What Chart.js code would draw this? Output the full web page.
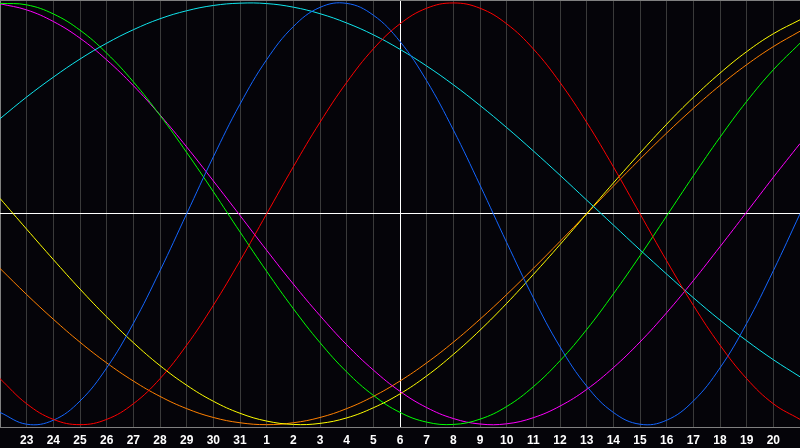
<!DOCTYPE html>
<html>
<head>
<meta charset="utf-8">
<script src="https://cdn.jsdelivr.net/npm/chart.js@4"></script>
<style>
    html, body { margin: 0; padding: 0; background: #050409; }
    canvas { display: block; }
</style>
</head>
<body>
<canvas id="bioChart" width="800" height="448"></canvas>
<script>
// --- Chart data (one value per day) ---

const days = [22, 23, 24, 25, 26, 27, 28, 29, 30, 31, 1, 2, 3, 4, 5, 6, 7, 8, 9, 10,
    11, 12, 13, 14, 15, 16, 17, 18, 19, 20, 21];

const physical = [-0.942, -0.998, -0.979, -0.888, -0.731, -0.520, -0.270, 0, 0.270, 0.520,
    0.731, 0.888, 0.979, 0.998, 0.942, 0.817, 0.631, 0.398, 0.136, -0.136,
    -0.398, -0.631, -0.817, -0.942, -0.998, -0.979, -0.888, -0.731, -0.520, -0.270, 0];

const emotional = [-0.782, -0.901, -0.975, -1, -0.975, -0.901, -0.782, -0.623, -0.434, -0.223,
    0, 0.223, 0.434, 0.623, 0.782, 0.901, 0.975, 1, 0.975, 0.901,
    0.782, 0.623, 0.434, 0.223, 0, -0.223, -0.434, -0.623, -0.782, -0.901, -0.975];

const intellectual = [0.998, 0.991, 0.948, 0.871, 0.762, 0.626, 0.467, 0.291, 0.105, -0.086,
    -0.273, -0.450, -0.611, -0.750, -0.861, -0.942, -0.988, -0.999, -0.974, -0.914,
    -0.820, -0.697, -0.549, -0.380, -0.199, -0.010, 0.180, 0.363, 0.533, 0.683, 0.809];

const intuitive = [0.996, 0.967, 0.912, 0.833, 0.730, 0.608, 0.469, 0.317, 0.156, -0.008,
    -0.173, -0.333, -0.483, -0.621, -0.741, -0.842, -0.919, -0.971, -0.997, -0.996,
    -0.967, -0.912, -0.833, -0.730, -0.608, -0.469, -0.317, -0.156, 0.008, 0.173, 0.333];

const aesthetic = [0.073, -0.073, -0.217, -0.357, -0.489, -0.611, -0.720, -0.813, -0.889, -0.946,
    -0.983, -0.999, -0.994, -0.968, -0.920, -0.854, -0.769, -0.667, -0.552, -0.425,
    -0.288, -0.146, 0, 0.146, 0.288, 0.425, 0.552, 0.667, 0.769, 0.854, 0.920];

const awareness = [-0.259, -0.383, -0.500, -0.609, -0.707, -0.793, -0.866, -0.924, -0.966, -0.991,
    -1, -0.991, -0.966, -0.924, -0.866, -0.793, -0.707, -0.609, -0.500, -0.383,
    -0.259, -0.131, 0, 0.131, 0.259, 0.383, 0.500, 0.609, 0.707, 0.793, 0.866];

const spiritual = [0.451, 0.554, 0.648, 0.734, 0.809, 0.873, 0.925, 0.963, 0.988, 0.999,
    0.997, 0.980, 0.949, 0.905, 0.849, 0.780, 0.701, 0.612, 0.514, 0.409,
    0.298, 0.183, 0.065, -0.053, -0.171, -0.286, -0.398, -0.504, -0.602, -0.692, -0.773];

const Y_LIMIT = 1.014;
const TODAY_INDEX = 15;

// --- Chart setup ---

function makeLine(data, color) {
    return {
        data: data,
        borderColor: color,
        borderWidth: 1,
        pointRadius: 0,
        pointHoverRadius: 0,
        tension: 0.4,
        fill: false
    };
}

const ctx = document.getElementById("bioChart").getContext("2d");

new Chart(ctx, {
    type: "line",
    data: {
        labels: days.map(String),
        datasets: [
            makeLine(emotional, "#ff0000"),
            makeLine(physical, "#1466ff"),
            makeLine(spiritual, "#10e6ee"),
            makeLine(intellectual, "#00ff00"),
            makeLine(intuitive, "#ff00ff"),
            makeLine(aesthetic, "#ffff00"),
            makeLine(awareness, "#ff8000")
        ]
    },
    options: {
        responsive: false,
        devicePixelRatio: 1,
        animation: false,
        layout: { padding: 0, autoPadding: false },
        plugins: {
            legend: { display: false },
            tooltip: { enabled: false }
        },
        scales: {
            x: {
                offset: false,
                border: { display: true, color: "#808080", width: 1 },
                grid: {
                    drawTicks: true,
                    tickLength: 6,
                    tickColor: "transparent",
                    lineWidth: 1,
                    color: (c) => {
                        if (c.index === TODAY_INDEX) return "#ffffff";
                        if (c.index === 0) return "#808080";
                        return "#3a3a3a";
                    }
                },
                ticks: {
                    autoSkip: false,
                    maxRotation: 0,
                    padding: 0,
                    color: "#ffffff",
                    font: { family: "'Liberation Sans', Arial, sans-serif", size: 12, weight: "bold" },
                    callback: function (value, index) {
                        if (index === 0 || index === days.length - 1) return "";
                        return this.getLabelForValue(value);
                    }
                }
            },
            y: {
                min: -Y_LIMIT,
                max: Y_LIMIT,
                afterBuildTicks: (scale) => {
                    scale.ticks = [{ value: -Y_LIMIT }, { value: 0 }, { value: Y_LIMIT }];
                },
                border: { display: false },
                grid: {
                    drawTicks: false,
                    lineWidth: 1,
                    color: (c) => (c.tick.value === 0 ? "#ffffff" : "#808080")
                },
                ticks: { display: false, padding: 0 }
            }
        }
    }
});
</script>
</body>
</html>
